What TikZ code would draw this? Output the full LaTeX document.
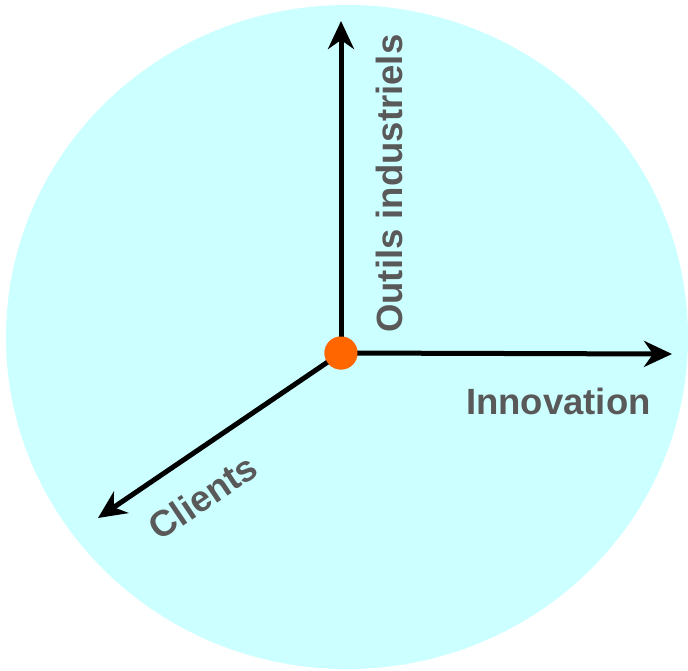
\documentclass[tikz,border=0pt]{standalone}
\usepackage{fontspec}
\setmainfont{Liberation Sans}
\usepackage{xcolor}
\usetikzlibrary{arrows.meta}
\definecolor{discfill}{HTML}{CCFFFF}
\definecolor{labelgray}{HTML}{595959}
\definecolor{dotorange}{HTML}{FF6600}
\tikzset{
    disc/.style={fill=discfill,draw=none},
    axis/.style={-{Stealth[length=28pt,width=26pt,inset=9pt]},line width=5pt,black},
    origindot/.style={circle,fill=dotorange,draw=none,minimum size=33pt,inner sep=0pt},
    axislabel/.style={text=labelgray,font=\fontsize{36.5}{40}\selectfont\bfseries,inner sep=0pt}
}
\begin{document}
\begin{tikzpicture}[x=1pt,y=-1pt]
  \useasboundingbox (0,0) rectangle (688,670);
  % background disc
  \fill[disc] (347,337) ellipse [x radius=341, y radius=332];
  % origin and axis ends
  \node[origindot] (O) at (341,353) {};
  \coordinate (up) at (341,21);
  \coordinate (right) at (672,354);
  \coordinate (downleft) at (98,518);
  % axes
  \draw[axis] (O.center) -- (up);
  \draw[axis] (O.center) -- (right);
  \draw[axis] (O.center) -- (downleft);
  \node[origindot] (dot) at (O) {};
  % labels
  \node[axislabel,rotate=90,anchor=base west] (tools) at (402,333) {Outils industriels};
  \node[axislabel,anchor=base west] (innov) at (466,414) {Innovation};
  \node[axislabel,rotate=34] (clients) at (203,497) {Clients};
\end{tikzpicture}
\end{document}
